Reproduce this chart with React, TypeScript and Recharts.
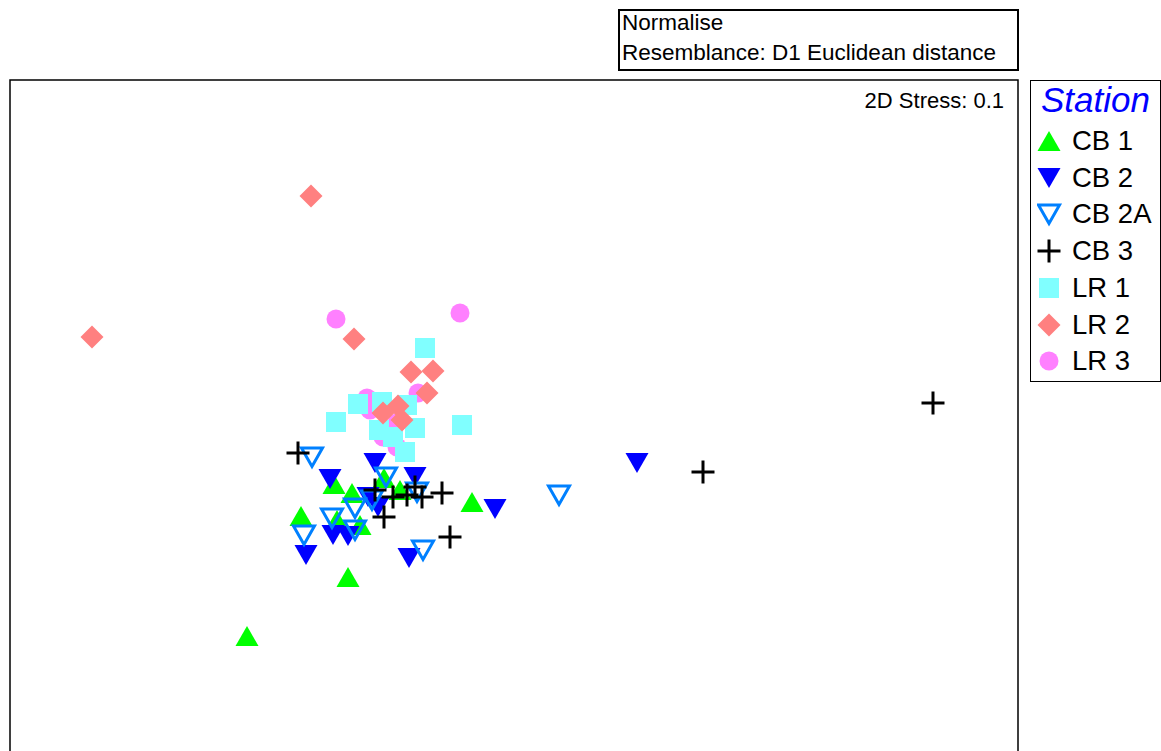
import { ReferenceArea, Scatter, ScatterChart, XAxis, YAxis } from "recharts";

// NMDS ordination coordinates
const cb1 = [
  { x: -0.66, y: -0.34 }, { x: -0.16, y: -0.28 }, { x: -0.48, y: -0.43 }, { x: 0.0, y: -0.4 },
  { x: 0.72, y: -0.52 }, { x: -0.99, y: -0.66 }, { x: -0.63, y: -0.7 }, { x: -0.4, y: -0.75 },
  { x: -0.52, y: -1.27 }, { x: -1.53, y: -1.86 },
];
const cb2 = [
  { x: -0.7, y: -0.29 }, { x: -0.25, y: -0.13 }, { x: 0.15, y: -0.27 }, { x: -0.32, y: -0.47 },
  { x: -0.22, y: -0.57 }, { x: -0.67, y: -0.85 }, { x: -0.52, y: -0.86 }, { x: -0.94, y: -1.05 },
  { x: 0.09, y: -1.08 }, { x: 0.95, y: -0.59 }, { x: 2.37, y: -0.13 },
];
const cb2a = [
  { x: -0.88, y: -0.07 }, { x: -0.14, y: -0.27 }, { x: 0.17, y: -0.42 }, { x: -0.28, y: -0.5 },
  { x: -0.45, y: -0.58 }, { x: -0.68, y: -0.68 }, { x: -0.45, y: -0.8 }, { x: -0.96, y: -0.85 },
  { x: 0.23, y: -1.0 }, { x: 1.59, y: -0.45 },
];
const cb3 = [
  { x: -1.02, y: -0.03 }, { x: -0.25, y: -0.4 }, { x: -0.07, y: -0.47 }, { x: 0.07, y: -0.45 },
  { x: 0.15, y: -0.37 }, { x: 0.22, y: -0.47 }, { x: 0.42, y: -0.43 }, { x: -0.16, y: -0.67 },
  { x: 0.5, y: -0.87 }, { x: 3.03, y: -0.22 }, { x: 5.33, y: 0.47 },
];
const lr1 = [
  { x: 0.25, y: 1.02 }, { x: -0.42, y: 0.46 }, { x: -0.18, y: 0.48 }, { x: 0.07, y: 0.45 },
  { x: -0.64, y: 0.28 }, { x: -0.21, y: 0.2 }, { x: 0.15, y: 0.22 }, { x: 0.62, y: 0.25 },
  { x: -0.07, y: 0.13 }, { x: 0.05, y: -0.02 },
];
const lr2 = [
  { x: -0.89, y: 2.54 }, { x: -3.08, y: 1.13 }, { x: -0.46, y: 1.11 }, { x: 0.11, y: 0.78 },
  { x: 0.33, y: 0.79 }, { x: 0.27, y: 0.57 }, { x: -0.17, y: 0.37 }, { x: -0.02, y: 0.44 },
  { x: 0.02, y: 0.3 },
];
const lr3 = [
  { x: -0.64, y: 1.31 }, { x: 0.6, y: 1.37 }, { x: -0.33, y: 0.52 }, { x: 0.18, y: 0.57 },
  { x: -0.3, y: 0.4 }, { x: -0.03, y: 0.27 }, { x: -0.17, y: 0.13 }, { x: -0.03, y: 0.03 },
];

const X_DOMAIN = [-3.9, 6.18];
const Y_DOMAIN = [-3.1, 3.7];

const COLORS = {
  cb1: "#00ff00",
  cb2: "#0000ff",
  cb2a: "#0080ff",
  cb3: "#000000",
  lr1: "#80ffff",
  lr2: "#ff8080",
  lr3: "#ff80ff",
};

type Kind = "up" | "down" | "open" | "plus" | "square" | "diamond" | "circle";

function Marker({ kind, cx, cy, color }: { kind: Kind; cx: number; cy: number; color: string }) {
  switch (kind) {
    case "up":
      return <polygon points={`${cx - 11.5},${cy + 10} ${cx + 11.5},${cy + 10} ${cx},${cy - 10}`} fill={color} />;
    case "down":
      return <polygon points={`${cx - 11.5},${cy - 10} ${cx + 11.5},${cy - 10} ${cx},${cy + 10}`} fill={color} />;
    case "open":
      return (
        <polygon
          points={`${cx - 10.5},${cy - 9} ${cx + 10.5},${cy - 9} ${cx},${cy + 9.5}`}
          fill="none"
          stroke={color}
          strokeWidth={3}
        />
      );
    case "plus":
      return (
        <g stroke={color} strokeWidth={3}>
          <line x1={cx - 11.5} y1={cy} x2={cx + 11.5} y2={cy} />
          <line x1={cx} y1={cy - 11.5} x2={cx} y2={cy + 11.5} />
        </g>
      );
    case "square":
      return <rect x={cx - 10} y={cy - 10} width={20} height={20} fill={color} />;
    case "diamond":
      return <polygon points={`${cx},${cy - 11.5} ${cx + 11.5},${cy} ${cx},${cy + 11.5} ${cx - 11.5},${cy}`} fill={color} />;
    default:
      return <circle cx={cx} cy={cy} r={9.5} fill={color} />;
  }
}

const shape = (kind: Kind, color: string) => (props: any) =>
  <Marker kind={kind} cx={props.cx} cy={props.cy} color={color} />;

const legendItems: { label: string; kind: Kind; color: string }[] = [
  { label: "CB 1", kind: "up", color: COLORS.cb1 },
  { label: "CB 2", kind: "down", color: COLORS.cb2 },
  { label: "CB 2A", kind: "open", color: COLORS.cb2a },
  { label: "CB 3", kind: "plus", color: COLORS.cb3 },
  { label: "LR 1", kind: "square", color: COLORS.lr1 },
  { label: "LR 2", kind: "diamond", color: COLORS.lr2 },
  { label: "LR 3", kind: "circle", color: COLORS.lr3 },
];

const font = "'Liberation Sans', Arial, sans-serif";

export default function App() {
  return (
    <div
      style={{
        position: "fixed",
        left: 0,
        top: 0,
        width: 1161,
        height: 751,
        overflow: "hidden",
        background: "#fff",
        fontFamily: font,
      }}
    >
      <ScatterChart width={1161} height={770} margin={{ top: 80, right: 143, bottom: 10, left: 10 }}>
        <XAxis type="number" dataKey="x" domain={X_DOMAIN} allowDataOverflow hide />
        <YAxis type="number" dataKey="y" domain={Y_DOMAIN} allowDataOverflow hide />
        <ReferenceArea
          x1={X_DOMAIN[0]}
          x2={X_DOMAIN[1]}
          y1={Y_DOMAIN[0]}
          y2={Y_DOMAIN[1]}
          fill="none"
          fillOpacity={0}
          stroke="#000"
          strokeWidth={1.5}
        />
        <Scatter data={lr3} shape={shape("circle", COLORS.lr3)} isAnimationActive={false} />
        <Scatter data={lr1} shape={shape("square", COLORS.lr1)} isAnimationActive={false} />
        <Scatter data={lr2} shape={shape("diamond", COLORS.lr2)} isAnimationActive={false} />
        <Scatter data={cb1} shape={shape("up", COLORS.cb1)} isAnimationActive={false} />
        <Scatter data={cb2} shape={shape("down", COLORS.cb2)} isAnimationActive={false} />
        <Scatter data={cb2a} shape={shape("open", COLORS.cb2a)} isAnimationActive={false} />
        <Scatter data={cb3} shape={shape("plus", COLORS.cb3)} isAnimationActive={false} />
      </ScatterChart>

      {/* resemblance box */}
      <div
        style={{
          position: "absolute",
          left: 618,
          top: 9,
          width: 401,
          height: 62,
          border: "2px solid #000",
          fontSize: 22.5,
          lineHeight: "30px",
          paddingLeft: 2,
          paddingTop: 0,
          boxSizing: "border-box",
        }}
      >
        <div style={{ marginTop: -3 }}>Normalise</div>
        <div>Resemblance: D1 Euclidean distance</div>
      </div>

      <div style={{ position: "absolute", right: 1161 - 1004, top: 87, fontSize: 22, lineHeight: "28px" }}>
        2D Stress: 0.1
      </div>

      {/* station legend */}
      <div
        style={{
          position: "absolute",
          left: 1030,
          top: 80,
          width: 131,
          height: 302,
          border: "1.5px solid #000",
          boxSizing: "border-box",
        }}
      >
        <div
          style={{
            position: "absolute",
            left: 0,
            width: "100%",
            top: -3,
            textAlign: "center",
            color: "#0000ff",
            fontStyle: "italic",
            fontSize: 35,
            lineHeight: "44px",
          }}
        >
          Station
        </div>
        {legendItems.map((item, i) => (
          <div
            key={item.label}
            style={{ position: "absolute", left: 6, top: 42 + i * 36.7, display: "flex", alignItems: "center", height: 36 }}
          >
            <svg width={26} height={36}>
              <Marker kind={item.kind} cx={12} cy={18} color={item.color} />
            </svg>
            <span style={{ fontSize: 27.5, lineHeight: "36px", marginLeft: 9 }}>{item.label}</span>
          </div>
        ))}
      </div>
    </div>
  );
}
